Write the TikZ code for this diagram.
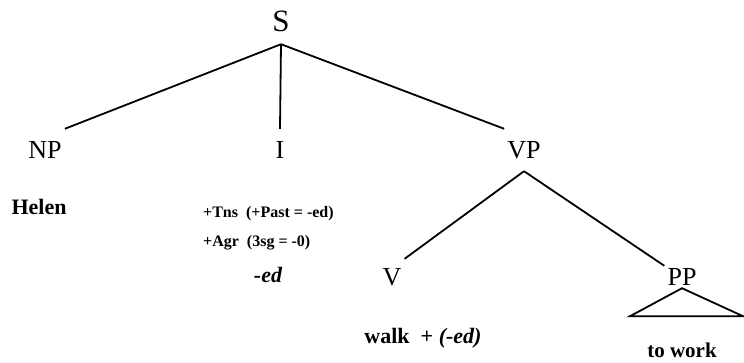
\documentclass[tikz,border=0pt]{standalone}
\usepackage{fontspec}
\setmainfont{Liberation Serif}
\usetikzlibrary{positioning}

\begin{document}
\begin{tikzpicture}[x=1pt, y=-1pt,
  cat/.style={inner xsep=3pt, inner ysep=0pt, minimum height=42pt, font=\fontsize{26}{30}\selectfont},
  low/.style={cat, minimum height=22pt},
  word/.style={inner sep=0pt, font=\bfseries\fontsize{22}{26}\selectfont},
  feat/.style={inner sep=0pt, align=left, font=\bfseries\fontsize{16}{29}\selectfont},
  branch/.style={line width=1.8pt}]
\useasboundingbox (0,0) rectangle (744,362);
\node[cat, minimum height=46pt, font=\fontsize{31}{35}\selectfont] (S) at (281,21) {S};
\node[cat] (NP) at (45,150) {NP};
\node[cat] (I) at (280,150) {I};
\node[cat] (VP) at (524,150) {VP};
\node[low, minimum height=36pt] (V) at (392,277) {V};
\node[low] (PP) at (682,277) {PP};
\node[word] (helen) at (39,207) {Helen};
\node[feat, anchor=west] (feats) at (203,228) {+Tns\ \ (+Past = -ed)\\+Agr\ \ (3sg = -0)};
\node[word, font=\bfseries\itshape\fontsize{22}{26}\selectfont] (suffix) at (268,275) {-ed};
\node[word] (walk) at (423,338) {walk\ \ + \textit{(-ed)}};
\node[word, font=\bfseries\fontsize{21}{25}\selectfont] (towork) at (682,350) {to work};
\draw[branch] (S.south) -- (NP.north east);
\draw[branch] (S.south) -- (I.north);
\draw[branch] (S.south) -- (VP.north west);
\draw[branch] (VP.south) -- (V.north east);
\draw[branch] (VP.south) -- (PP.north west);
\draw[branch] (PP.south) -- ++(-52,28) -- ++(113,0) -- cycle;
\end{tikzpicture}
\end{document}
